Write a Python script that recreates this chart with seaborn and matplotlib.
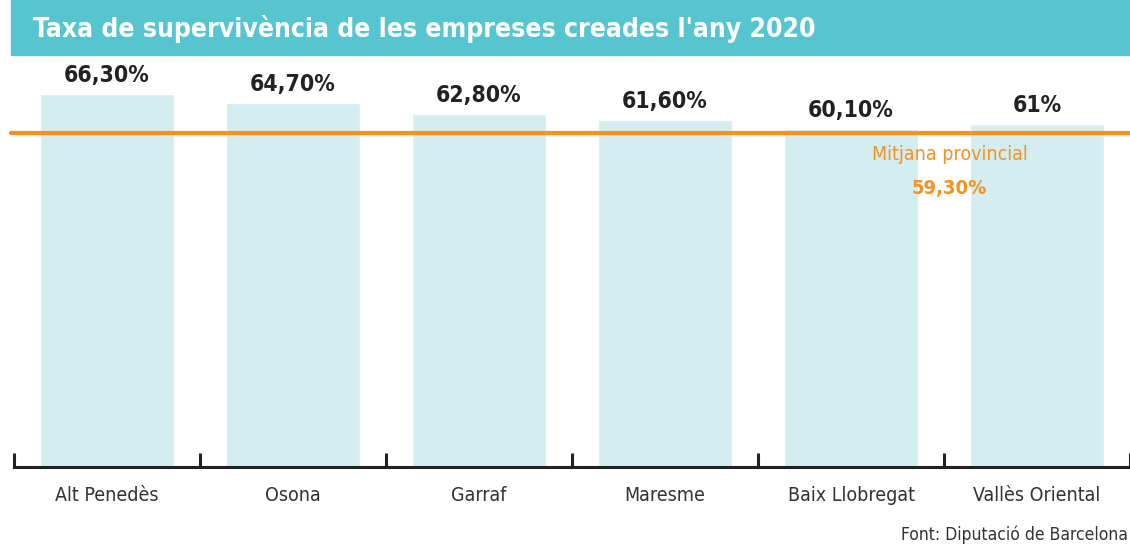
import matplotlib
matplotlib.use("Agg")
import matplotlib.pyplot as plt
import pandas as pd
import seaborn as sns
from matplotlib.patches import Rectangle

sns.set_theme(style="white")
plt.rcParams["font.family"] = ["DejaVu Sans"]
plt.rcParams["font.stretch"] = "condensed"

title = "Taxa de supervivència de les empreses creades l'any 2020"
comarques = ["Alt Penedès", "Osona", "Garraf", "Maresme", "Baix Llobregat", "Vallès Oriental"]
taxa = [66.3, 64.7, 62.8, 61.6, 60.1, 61.0]
taxa_labels = ["66,30%", "64,70%", "62,80%", "61,60%", "60,10%", "61%"]
mitjana = 59.3
mitjana_label = "59,30%"
source = "Font: Diputació de Barcelona"

BANNER = "#56c5d0"
BAR = "#d4edf1"
ORANGE = "#f39324"
DARK = "#222222"

W, H = 1130, 547
fig = plt.figure(figsize=(W / 100, H / 100), dpi=100)

# title banner
fig.patches.append(Rectangle((11 / W, 1 - 55 / H), 1 - 11 / W, 55 / H,
                             transform=fig.transFigure, color=BANNER, zorder=0))
fig.text(33 / W, 1 - 29 / H, title, color="white", fontsize=19, fontweight="bold",
         va="center", ha="left")

ax = fig.add_axes([14 / W, 80 / H, 1116 / W, 394 / H])
df = pd.DataFrame({"comarca": comarques, "taxa": taxa})
sns.barplot(data=df, x="comarca", y="taxa", color=BAR, width=0.72,
            saturation=1, ax=ax, zorder=1)

ax.set_xlim(-0.5, len(comarques) - 0.5)
ax.set_ylim(0, 70)
ax.set_xlabel("")
ax.set_ylabel("")
ax.set_yticks([])
for side in ["top", "left", "right"]:
    ax.spines[side].set_visible(False)
ax.spines["bottom"].set_color(DARK)
ax.spines["bottom"].set_linewidth(2.2)

ax.set_xticks([i - 0.5 for i in range(len(comarques) + 1)])
ax.set_xticklabels([])
ax.set_xticks(range(len(comarques)), minor=True)
ax.set_xticklabels(comarques, minor=True)
ax.tick_params(axis="x", which="major", direction="in", length=10, width=2.2,
               color=DARK, bottom=True)
ax.tick_params(axis="x", which="minor", length=0, pad=14, labelsize=14,
               labelcolor="#333333")

for i, (v, lab) in enumerate(zip(taxa, taxa_labels)):
    ax.annotate(lab, (i, v), xytext=(0, 5), textcoords="offset points",
                ha="center", va="bottom", fontsize=16.5, fontweight="bold", color=DARK)

ax.axhline(mitjana, xmin=-3 / 1116, xmax=1, color=ORANGE, linewidth=3,
           clip_on=False, zorder=3)
ax.text(4.53, mitjana - 3.8, "Mitjana provincial", color=ORANGE, fontsize=14,
        ha="center", va="center")
ax.text(4.53, mitjana - 9.8, mitjana_label, color=ORANGE, fontsize=14.5,
        fontweight="bold", ha="center", va="center")

fig.text(1128 / W, 3 / H, source, ha="right", va="bottom", fontsize=12.5,
         color="#333333")

fig.savefig("out.png", dpi=100)
